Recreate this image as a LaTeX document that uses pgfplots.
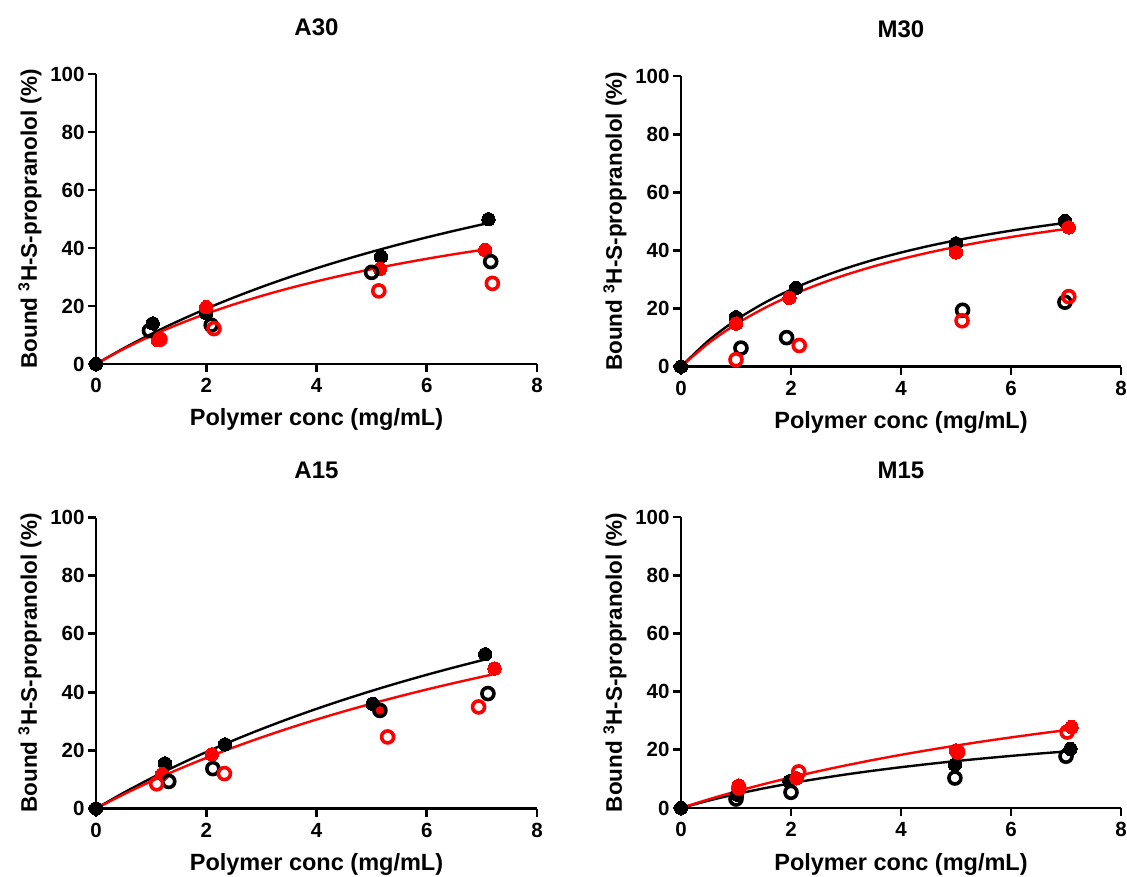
\documentclass[border=0pt]{standalone}
\usepackage{fontspec}
\setmainfont{Liberation Sans}
\usepackage{pgfplots}
\pgfplotsset{compat=1.18}

\pgfplotsset{
  prism/.style={
    scale only axis, width=441pt, height=290pt,
    xmin=0, xmax=8, ymin=0, ymax=100,
    axis lines=left, axis line style={-, line width=2.9pt},
    xtick={0,2,4,6,8}, ytick={0,20,40,60,80,100},
    tick align=outside, major tick length=8pt,
    tick style={line width=2.9pt, black},
    ticklabel style={font=\fontsize{20.5}{24}\selectfont\bfseries},
    xticklabel style={yshift=-3pt},
    /pgf/number format/assume math mode=true,
    clip=false,
    label style={font=\fontsize{23.5}{27}\selectfont\bfseries},
    xlabel={Polymer conc (mg/mL)},
    ylabel={Bound \textsuperscript{3}H-S-propranolol (\%)},
    xlabel style={at={(axis description cs:0.5,-0.193)}, anchor=center},
    ylabel style={font=\fontsize{22.5}{26}\selectfont\bfseries, at={(axis description cs:-0.15,0.5)}, anchor=center},
    title style={font=\fontsize{24}{28}\selectfont\bfseries, at={(axis description cs:0.5,1.14)}, anchor=center},
    anchor=south west,
  },
  fb/.style={only marks, mark=*, mark size=6.7pt, mark options={fill=black, draw=black, line width=0pt}},
  fr/.style={only marks, mark=*, mark size=6.7pt, mark options={fill=red, draw=red, line width=0pt}},
  ob/.style={only marks, mark=o, mark size=6.0pt, mark options={draw=black, line width=3.6pt}},
  orr/.style={only marks, mark=o, mark size=6.0pt, mark options={draw=red, line width=3.6pt}},
  cb/.style={black, line width=2.4pt, no markers, smooth},
  cr/.style={red, line width=2.4pt, no markers, smooth},
}

\begin{document}
\begin{tikzpicture}
\path[use as bounding box] (0,0) rectangle (1127pt,876pt);

% ---------------- A30 ----------------
\begin{axis}[prism, at={(96pt,512pt)}, title={A30}]
\addplot[fb] coordinates {(1.03,14.0) (2.0,17.5) (5.17,37.0) (7.12,49.9)};
\addplot[fr] coordinates {(1.12,8.2) (2.0,19.6) (5.15,32.8) (7.06,39.3)};
\addplot[ob] coordinates {(0.97,11.5) (2.09,13.4) (5.0,31.6) (7.16,35.3)};
\addplot[orr] coordinates {(1.16,8.5) (2.14,12.2) (5.13,25.2) (7.19,27.8)};
\addplot[cb] coordinates {(0,0) (0.5,5.39) (1,10.33) (1.5,14.87) (2,19.06) (2.5,22.93) (3,26.53) (3.5,29.88) (4,33.01) (4.5,35.93) (5,38.67) (5.5,41.24) (6,43.66) (6.5,45.94) (7,48.10) (7.1,48.51)};
\addplot[cr] coordinates {(0,0) (0.5,5.17) (1,9.72) (1.5,13.75) (2,17.33) (2.5,20.55) (3,23.46) (3.5,26.10) (4,28.50) (4.5,30.69) (5,32.71) (5.5,34.56) (6,36.28) (6.5,37.87) (7,39.35) (7.05,39.50)};
\addplot[fb] coordinates {(0,0)};
\end{axis}

% ---------------- M30 ----------------
\begin{axis}[prism, at={(681pt,509.3pt)}, width=440pt, height=290.7pt, title={M30}]
\addplot[fb] coordinates {(1.0,17.0) (2.09,27.1) (5.0,42.4) (6.98,50.1)};
\addplot[fr] coordinates {(1.0,14.8) (1.97,23.7) (5.0,39.3) (7.05,47.9)};
\addplot[ob] coordinates {(1.09,6.4) (1.92,10.0) (5.12,19.4) (6.98,22.2)};
\addplot[orr] coordinates {(1.0,2.4) (2.15,7.3) (5.11,15.8) (7.05,24.1)};
\addplot[cb] coordinates {(0,0) (0.5,8.98) (1,16.06) (1.5,21.78) (2,26.50) (2.5,30.47) (3,33.84) (3.5,36.75) (4,39.27) (4.5,41.50) (5,43.46) (5.5,45.22) (6,46.79) (6.5,48.21) (7,49.50)};
\addplot[cr] coordinates {(0,0) (0.5,8.09) (1,14.62) (1.5,20.0) (2,24.51) (2.5,28.34) (3,31.63) (3.5,34.50) (4,37.01) (4.5,39.24) (5,41.22) (5.5,43.00) (6,44.60) (6.5,46.05) (7,47.38) (7.05,47.50)};
\addplot[fb] coordinates {(0,0)};
\end{axis}

% ---------------- A15 ----------------
\begin{axis}[prism, at={(96pt,67.5pt)}, height=291pt, title={A15}]
\addplot[fb] coordinates {(1.25,15.5) (2.34,22.0) (5.02,36.0) (7.06,53.0)};
\addplot[fr] coordinates {(1.2,11.8) (2.1,18.6) (5.15,33.7) (7.23,48.1)};
\addplot[ob] coordinates {(1.32,9.3) (2.12,13.7) (5.15,33.7) (7.11,39.5)};
\addplot[orr] coordinates {(1.1,8.5) (2.33,12.0) (5.29,24.6) (6.94,34.9)};
\addplot[cb] coordinates {(0,0) (0.5,5.39) (1,10.39) (1.5,15.05) (2,19.40) (2.5,23.47) (3,27.28) (3.5,30.86) (4,34.24) (4.5,37.41) (5,40.42) (5.5,43.26) (6,45.95) (6.5,48.50) (7,50.93) (7.06,51.21)};
\addplot[cr] coordinates {(0,0) (0.5,4.85) (1,9.35) (1.5,13.52) (2,17.40) (2.5,21.03) (3,24.42) (3.5,27.59) (4,30.58) (4.5,33.39) (5,36.03) (5.5,38.53) (6,40.90) (6.5,43.14) (7,45.26) (7.2,46.09)};
\addplot[fb] coordinates {(0,0)};
\end{axis}

% ---------------- M15 ----------------
\begin{axis}[prism, at={(681pt,68pt)}, width=440pt, height=291pt, title={M15}]
\addplot[fb] coordinates {(1.02,4.6) (1.97,9.2) (4.98,14.9) (7.08,20.3)};
\addplot[fr] coordinates {(1.05,7.7) (2.1,10.2) (5.0,19.8) (7.1,27.8)};
\addplot[ob] coordinates {(1.0,3.1) (2.0,5.4) (4.98,10.3) (7.0,17.8)};
\addplot[orr] coordinates {(1.05,6.9) (2.14,12.4) (5.03,19.2) (7.02,26.1)};
\addplot[cb] coordinates {(0,0) (0.5,2.53) (1,4.76) (1.5,6.73) (2,8.50) (2.5,10.09) (3,11.53) (3.5,12.83) (4,14.02) (4.5,15.11) (5,16.12) (5.5,17.04) (6,17.90) (6.5,18.69) (7,19.43) (7.05,19.50)};
\addplot[cr] coordinates {(0,0) (0.5,2.96) (1,5.67) (1.5,8.18) (2,10.50) (2.5,12.65) (3,14.66) (3.5,16.53) (4,18.27) (4.5,19.91) (5,21.45) (5.5,22.90) (6,24.26) (6.5,25.55) (7,26.76) (7.1,27.0)};
\addplot[fb] coordinates {(0,0)};
\end{axis}
\end{tikzpicture}
\end{document}
